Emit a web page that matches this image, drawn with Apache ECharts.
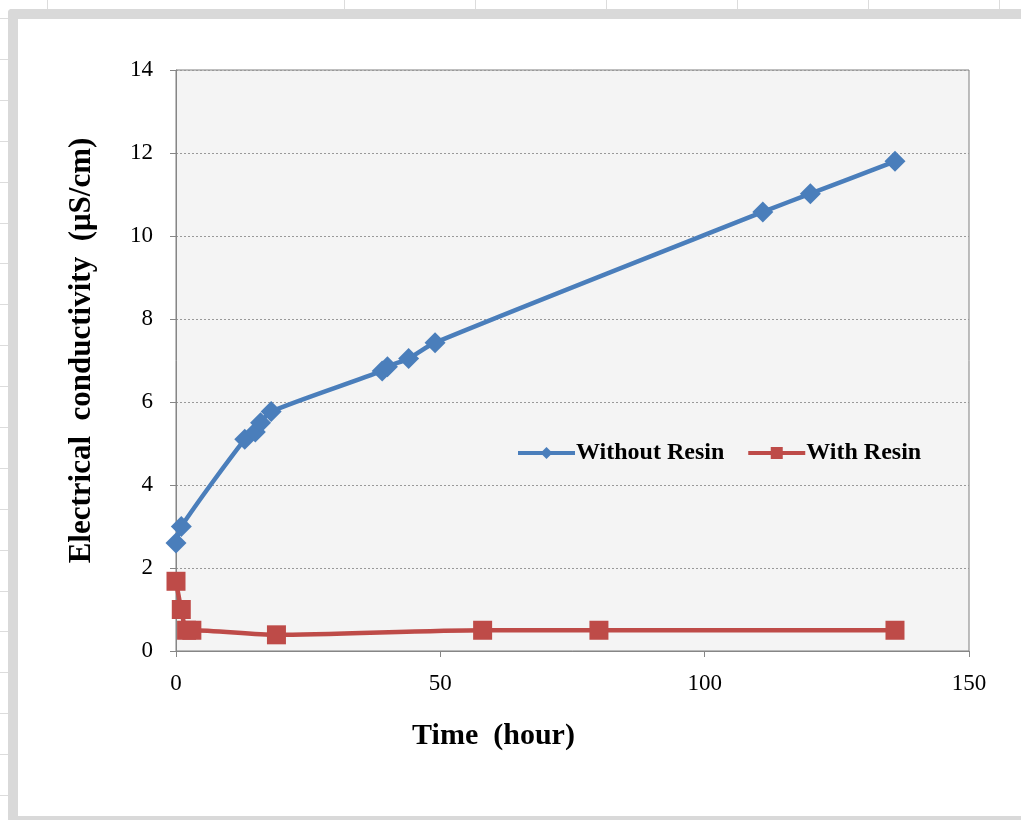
<!DOCTYPE html>
<html>
<head>
<meta charset="utf-8">
<script src="https://cdn.jsdelivr.net/npm/echarts@6/dist/echarts.min.js"></script>
<style>
html,body{margin:0;padding:0;background:#fff;}
#chart{width:1021px;height:820px;}
</style>
</head>
<body>
<div id="chart"></div>
<script>
// Data
const seriesNames = ['Without Resin', 'With Resin'];
const timeWithout = [0, 1, 13, 15, 16, 18, 39, 40, 44, 49, 111, 120, 136];
const ecWithout   = [2.6, 3.0, 5.1, 5.28, 5.5, 5.77, 6.75, 6.85, 7.05, 7.43, 10.58, 11.02, 11.8];
const timeWith    = [0, 1, 2, 3, 19, 58, 80, 136];
const ecWith      = [1.68, 1.0, 0.5, 0.5, 0.39, 0.5, 0.5, 0.5];
const xTicks = [0, 50, 100, 150];
const yTicks = [0, 2, 4, 6, 8, 10, 12, 14];

const pair = (xs, ys) => xs.map((x, i) => [x, ys[i]]);

const chart = echarts.init(document.getElementById('chart'), null, {renderer: 'canvas'});

// spreadsheet decoration
const deco = [];
[47, 344, 475, 606, 737, 868, 999].forEach(x => deco.push({
  type: 'line', shape: {x1: x + 0.5, y1: 0, x2: x + 0.5, y2: 9}, style: {stroke: '#dcdcdc', lineWidth: 1}, silent: true
}));
for (let y = 18; y < 820; y += 40.9) {
  deco.push({type: 'line', shape: {x1: 0, y1: Math.round(y) + 0.5, x2: 8, y2: Math.round(y) + 0.5}, style: {stroke: '#dcdcdc', lineWidth: 1}, silent: true});
}
deco.push({type: 'rect', shape: {x: 8, y: 9, width: 1030, height: 10, r: [4, 0, 0, 0]}, style: {fill: '#d9d9d9'}, silent: true});
deco.push({type: 'rect', shape: {x: 8, y: 9, width: 10, height: 811, r: [4, 0, 0, 0]}, style: {fill: '#d9d9d9'}, silent: true});
deco.push({type: 'rect', shape: {x: 8, y: 816, width: 1030, height: 4}, style: {fill: '#d9d9d9'}, silent: true});

const FONT = '"Liberation Serif", "Times New Roman", serif';

chart.setOption({
  backgroundColor: '#ffffff',
  animation: false,
  graphic: deco,
  grid: {
    left: 176, right: 52, top: 70, bottom: 169,
    show: true, backgroundColor: '#f4f4f4', borderColor: '#7f7f7f', borderWidth: 1
  },
  legend: {
    left: 511, top: 436,
    itemWidth: 57, itemHeight: 15, itemGap: 22,
    lineStyle: {width: 4},
    textStyle: {fontFamily: FONT, fontWeight: 'bold', fontSize: 24, color: '#000', padding: [0, 0, 0, -4]},
    data: seriesNames
  },
  xAxis: {
    type: 'value', min: 0, max: 150, interval: 50,
    name: 'Time  (hour)', nameLocation: 'middle', nameGap: 70,
    nameTextStyle: {fontFamily: FONT, fontWeight: 'bold', fontSize: 30, color: '#000', padding: [0, 158, 0, 0]},
    axisLine: {show: true, onZero: false, lineStyle: {color: '#868686', width: 1}},
    axisTick: {show: true, length: 6, lineStyle: {color: '#868686'}},
    axisLabel: {fontFamily: FONT, fontSize: 23, color: '#000', margin: 21,
      formatter: v => xTicks.includes(v) ? String(v) : ''},
    splitLine: {show: false}
  },
  yAxis: {
    type: 'value', min: 0, max: 14, interval: 2,
    name: 'Electrical  conductivity  (μS/cm)', nameLocation: 'middle', nameGap: 79,
    nameTextStyle: {fontFamily: FONT, fontWeight: 'bold', fontSize: 31, color: '#000', padding: [0, 0, 0, 20]},
    axisLine: {show: true, lineStyle: {color: '#868686', width: 1}},
    axisTick: {show: true, length: 6, lineStyle: {color: '#868686'}},
    axisLabel: {fontFamily: FONT, fontSize: 23, color: '#000', margin: 23,
      formatter: v => yTicks.includes(v) ? String(v) : ''},
    splitLine: {show: true, lineStyle: {color: '#999999', type: [2, 2], width: 1}}
  },
  series: [
    {
      name: seriesNames[0], type: 'line', smooth: 0.25,
      data: pair(timeWithout, ecWithout),
      symbol: 'diamond', symbolSize: 21,
      lineStyle: {color: '#4a7ebb', width: 4.5},
      itemStyle: {color: '#4a7ebb'},
      z: 3
    },
    {
      name: seriesNames[1], type: 'line', smooth: 0.25,
      data: pair(timeWith, ecWith),
      symbol: 'rect', symbolSize: 19,
      lineStyle: {color: '#be4b48', width: 4.5},
      itemStyle: {color: '#be4b48'},
      z: 4
    }
  ]
});
</script>
</body>
</html>
